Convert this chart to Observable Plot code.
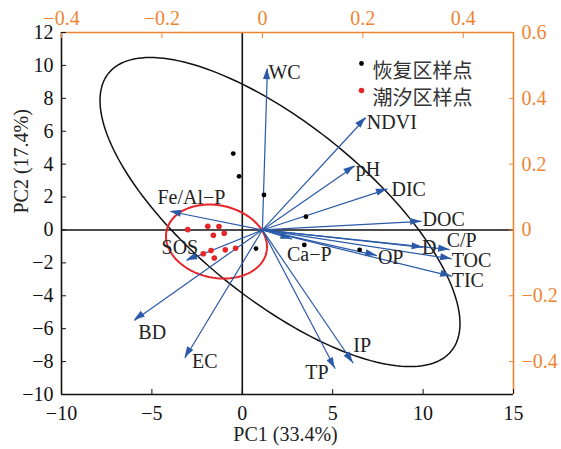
<!DOCTYPE html>
<html>
<head>
<meta charset="utf-8">
<script src="https://cdn.jsdelivr.net/npm/d3@7"></script>
<script src="https://cdn.jsdelivr.net/npm/@observablehq/plot@0.6"></script>
<style>
  html, body { margin: 0; padding: 0; background: #fff; }
  #chart { width: 561px; height: 449px; }
</style>
</head>
<body>
<div id="chart"></div>
<script>
// PCA biplot: sample scores (bottom/left axes) and variable loadings (top/right axes)

// Sample scores
const restoredPC1 = [-0.50, -0.18, 1.20, 3.52, 0.76, 3.43, 6.49];
const restoredPC2 = [4.64, 3.26, 2.13, 0.81, -1.13, -0.91, -1.21];
const tidalPC1 = [-3.02, -1.91, -1.29, -1.60, -1.00, -2.16, -1.73, -1.55, -0.94, -0.37];
const tidalPC2 = [0.02, 0.22, 0.21, -0.32, -0.20, -1.45, -1.25, -1.70, -1.21, -1.11];

// Variable loadings
const varNames = ["WC", "NDVI", "pH", "DIC", "DOC", "D", "C/P", "TOC", "TIC", "OP", "Ca\u2212P", "Fe/Al\u2212P", "SOS", "BD", "EC", "TP", "IP"];
const loadPC1 = [0.010, 0.206, 0.184, 0.249, 0.317, 0.320, 0.373, 0.377, 0.377, 0.228, 0.059, -0.183, -0.151, -0.255, -0.154, 0.145, 0.181];
const loadPC2 = [0.490, 0.341, 0.194, 0.124, 0.026, -0.053, -0.060, -0.088, -0.141, -0.078, -0.028, 0.056, -0.093, -0.275, -0.389, -0.422, -0.405];

// Axis ranges and ticks
const scoreXDomain = [-10, 15];
const scoreYDomain = [-10, 12];
const loadXDomain = [-0.4, 0.5];
const loadYDomain = [-0.5, 0.6];
const bottomTicks = [-10, -5, 0, 5, 10, 15];
const leftTicks = [-10, -8, -6, -4, -2, 0, 2, 4, 6, 8, 10, 12];
const topTicks = [-0.4, -0.2, 0, 0.2, 0.4];
const rightTicks = [-0.4, -0.2, 0, 0.2, 0.4, 0.6];

// 95% confidence ellipses: centre and two conjugate half-axis vectors (score units)
const restoredEllipse = [2.085, 1.088, 9.48, -8.44, -3.04, -4.12];
const tidalEllipse = [-1.427, -0.705, 2.76, -0.66, -0.43, -2.15];

const legendLabels = ["恢复区样点", "潮汐区样点"];
const axisTitles = ["PC1 (33.4%)", "PC2 (17.4%)"];

// ---- styling ----
const orange = "#ef8533";
const blue = "#2b5aa8";
const red = "#e6252a";
const serif = "'Liberation Serif', 'Times New Roman', serif";
const cjk = "'Noto Sans CJK SC', sans-serif";

// loading space -> score space (the secondary axes share the frame)
const lx2s = (v) => scoreXDomain[0] + (v - loadXDomain[0]) / (loadXDomain[1] - loadXDomain[0]) * (scoreXDomain[1] - scoreXDomain[0]);
const ly2s = (v) => scoreYDomain[0] + (v - loadYDomain[0]) / (loadYDomain[1] - loadYDomain[0]) * (scoreYDomain[1] - scoreYDomain[0]);
const s2lx = (s) => loadXDomain[0] + (s - scoreXDomain[0]) / (scoreXDomain[1] - scoreXDomain[0]) * (loadXDomain[1] - loadXDomain[0]);
const s2ly = (s) => loadYDomain[0] + (s - scoreYDomain[0]) / (scoreYDomain[1] - scoreYDomain[0]) * (loadYDomain[1] - loadYDomain[0]);
const fmt1 = (v) => { const r = Math.round(v * 10) / 10; return r === 0 ? "0" : d3.format(".1f")(r); };

const restored = restoredPC1.map((x, i) => ({x, y: restoredPC2[i]}));
const tidal = tidalPC1.map((x, i) => ({x, y: tidalPC2[i]}));
const vectors = varNames.map((name, i) => ({
  name,
  x1: lx2s(0), y1: ly2s(0),
  x2: lx2s(loadPC1[i]), y2: ly2s(loadPC2[i])
}));

function ellipsePath([cx, cy, ux, uy, vx, vy]) {
  return d3.range(0, 361, 2).map((deg) => {
    const t = deg * Math.PI / 180;
    return {x: cx + ux * Math.cos(t) + vx * Math.sin(t), y: cy + uy * Math.cos(t) + vy * Math.sin(t)};
  });
}

// label nudges (px) relative to each arrow tip
const nudge = {
  "WC": [1, 4], "NDVI": [1, 5], "pH": [1, 3], "DIC": [4, 0], "DOC": [1, -2],
  "D": [-1, 0], "C/P": [-3, -9], "TOC": [0, 2], "TIC": [0, 4], "OP": [1, 2],
  "Ca\u2212P": [-5, 15], "Fe/Al\u2212P": [-13, -14], "SOS": [-25, -13],
  "BD": [4, 12], "EC": [7, 4], "TP": [-30, 4], "IP": [0, -18]
};

// filled arrowheads drawn in pixel space from the plot's scales
function arrowHeads(...args) {
  const scales = args.find((a) => a && typeof a.x === "function" && typeof a.y === "function");
  if (!scales) return null;
  const g = d3.create("svg:g").attr("fill", blue).attr("stroke", "none");
  const L = 11, W = 3.6;
  for (const v of vectors) {
    const x1 = scales.x(v.x1), y1 = scales.y(v.y1);
    const x2 = scales.x(v.x2), y2 = scales.y(v.y2);
    const a = Math.atan2(y2 - y1, x2 - x1);
    const bx = x2 - L * Math.cos(a), by = y2 - L * Math.sin(a);
    g.append("path").attr("d",
      `M${x2},${y2}L${bx - W * Math.sin(a)},${by + W * Math.cos(a)}L${bx + W * Math.sin(a)},${by - W * Math.cos(a)}Z`);
  }
  return g.node();
}

const labelMarks = vectors.map((v) => Plot.text([v], {
  x: "x2", y: "y2", text: "name",
  textAnchor: "start", dx: nudge[v.name][0], dy: nudge[v.name][1],
  fill: "#222", fontSize: 20, fontFamily: serif
}));

const chart = Plot.plot({
  width: 561,
  height: 449,
  marginLeft: 61,
  marginRight: 48,
  marginTop: 32,
  marginBottom: 55,
  style: {fontFamily: serif, fontSize: "20px", background: "#fff", color: "#000"},
  x: {domain: scoreXDomain},
  y: {domain: scoreYDomain},
  marks: [
    // reference lines through the score origin
    Plot.ruleX([0], {stroke: "#111", strokeWidth: 1.6}),
    Plot.ruleY([0], {stroke: "#111", strokeWidth: 1.6}),
    // ellipses
    Plot.line(ellipsePath(restoredEllipse), {x: "x", y: "y", stroke: "#111", strokeWidth: 1.5}),
    Plot.line(ellipsePath(tidalEllipse), {x: "x", y: "y", stroke: red, strokeWidth: 2}),
    // loading vectors
    Plot.link(vectors, {x1: "x1", y1: "y1", x2: "x2", y2: "y2", stroke: blue, strokeWidth: 1.2}),
    arrowHeads,
    ...labelMarks,
    // sample scores
    Plot.dot(restored, {x: "x", y: "y", r: 2.4, fill: "#000"}),
    Plot.dot(tidal, {x: "x", y: "y", r: 2.8, fill: red}),
    // frame
    Plot.ruleX([scoreXDomain[0]], {stroke: "#111", strokeWidth: 1.6}),
    Plot.ruleY([scoreYDomain[0]], {stroke: "#111", strokeWidth: 1.6}),
    Plot.ruleX([scoreXDomain[1]], {stroke: orange, strokeWidth: 1.6}),
    Plot.ruleY([scoreYDomain[1]], {stroke: orange, strokeWidth: 1.6}),
    // axes
    Plot.axisX(bottomTicks, {anchor: "bottom", tickSize: -5, tickPadding: 16, label: null, color: "#111", fontSize: 20}),
    Plot.axisY(leftTicks, {anchor: "left", tickSize: -5, tickPadding: 13, label: null, color: "#111", fontSize: 20}),
    Plot.axisX(topTicks.map(lx2s), {anchor: "top", tickSize: -5, tickPadding: 13, label: null, color: orange, fontSize: 20,
      tickFormat: (d) => fmt1(s2lx(d))}),
    Plot.axisY(rightTicks.map(ly2s), {anchor: "right", tickSize: -5, tickPadding: 13, label: null, color: orange, fontSize: 20,
      tickFormat: (d) => fmt1(s2ly(d))}),
    // axis titles
    Plot.text([axisTitles[0]], {frameAnchor: "bottom", dx: -2, dy: 46, fill: "#222", fontSize: 20, fontFamily: serif}),
    Plot.text([axisTitles[1]], {frameAnchor: "left", dx: -40, rotate: -90, fill: "#222", fontSize: 20, fontFamily: serif}),
    // legend
    Plot.dot([0], {frameAnchor: "top-left", dx: 300, dy: 31, r: 2.4, fill: "#000"}),
    Plot.dot([0], {frameAnchor: "top-left", dx: 300, dy: 58, r: 2.8, fill: red}),
    Plot.text([legendLabels[0]], {frameAnchor: "top-left", dx: 311, dy: 31, textAnchor: "start", fill: "#333", fontSize: 20, fontFamily: cjk}),
    Plot.text([legendLabels[1]], {frameAnchor: "top-left", dx: 311, dy: 58, textAnchor: "start", fill: "#333", fontSize: 20, fontFamily: cjk})
  ]
});

document.getElementById("chart").appendChild(chart);
</script>
</body>
</html>
